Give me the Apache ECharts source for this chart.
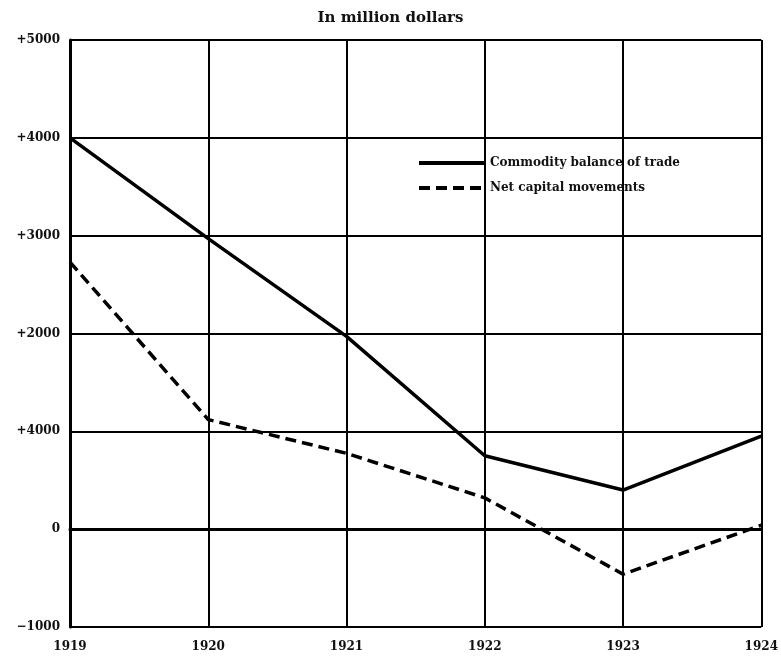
<!DOCTYPE html>
<html>
<head>
<meta charset="utf-8">
<script src="https://cdn.jsdelivr.net/npm/echarts@6/dist/echarts.min.js"></script>
<style>
  html, body { margin: 0; padding: 0; background: #fff; }
  #chart { width: 781px; height: 662px; }
</style>
</head>
<body>
<div id="chart"></div>
<script>
var years = ["1919", "1920", "1921", "1922", "1923", "1924"];
var commodityBalance = [4000, 2970, 1970, 750, 400, 950];
var netCapital = [2730, 1120, 775, 320, -460, 40];
// tick labels as printed in the source (the 1000 line is printed "+4000")
var yTickLabels = { "5000": "+5000", "4000": "+4000", "3000": "+3000", "2000": "+2000", "1000": "+4000", "0": "0", "-1000": "\u22121000" };

var chart = echarts.init(document.getElementById("chart"));
var font = "'DejaVu Serif', 'Liberation Serif', serif";

chart.setOption({
  backgroundColor: "#ffffff",
  animation: false,
  title: {
    text: "In million dollars",
    left: "center",
    top: 6,
    textStyle: {
      fontFamily: font,
      fontWeight: "bold",
      fontSize: 15,
      color: "#111"
    }
  },
  legend: {
    left: 412,
    top: 152,
    orient: "vertical",
    itemWidth: 66,
    itemHeight: 12,
    itemGap: 13,
    itemStyle: { opacity: 0 },
    lineStyle: { width: 4 },
    data: ["Commodity balance of trade", "Net capital movements"],
    textStyle: {
      fontFamily: font,
      fontWeight: "bold",
      fontSize: 12,
      color: "#111"
    }
  },
  grid: {
    left: 70,
    right: 19,
    top: 40,
    bottom: 35
  },
  xAxis: {
    type: "category",
    boundaryGap: false,
    data: years,
    axisLine: { lineStyle: { color: "#000", width: 3 } },
    axisTick: { show: false },
    axisLabel: {
      margin: 14,
      fontFamily: font,
      fontWeight: "bold",
      fontSize: 12,
      color: "#111"
    },
    splitLine: { show: true, lineStyle: { color: "#000", width: 2 } }
  },
  yAxis: {
    type: "value",
    min: -1000,
    max: 5000,
    interval: 1000,
    axisLine: { show: true, lineStyle: { color: "#000", width: 3 } },
    axisTick: { show: false },
    axisLabel: {
      margin: 10,
      fontFamily: font,
      fontWeight: "bold",
      fontSize: 12,
      color: "#111",
      formatter: function (v) { return yTickLabels[String(v)]; }
    },
    splitLine: { show: true, lineStyle: { color: "#000", width: 2 } }
  },
  series: [
    {
      name: "Commodity balance of trade",
      type: "line",
      data: commodityBalance,
      symbol: "none",
      lineStyle: { color: "#000", width: 3.5, type: "solid" },
      itemStyle: { color: "#000" },
      z: 5
    },
    {
      name: "Net capital movements",
      type: "line",
      data: netCapital,
      symbol: "none",
      lineStyle: { color: "#000", width: 3.5, type: [11, 6] },
      itemStyle: { color: "#000" },
      z: 5
    }
  ]
});
</script>
</body>
</html>
